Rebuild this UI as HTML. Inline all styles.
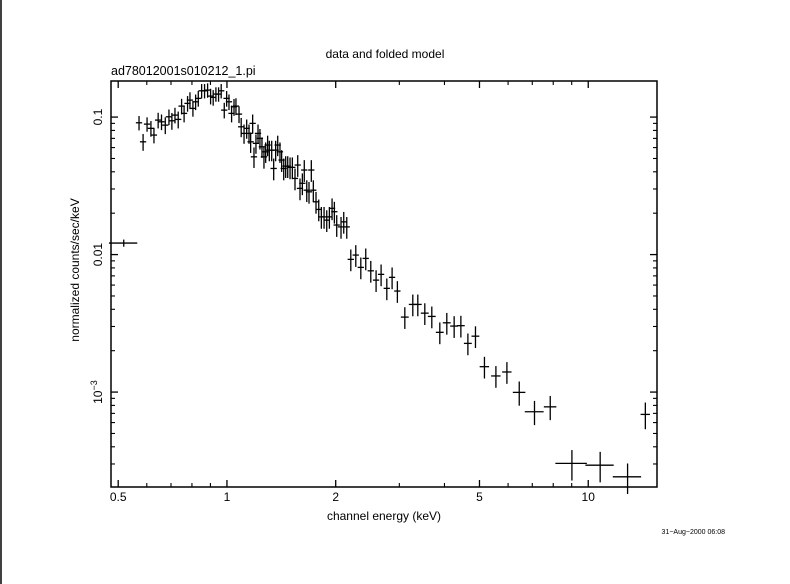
<!DOCTYPE html>
<html><head><meta charset="utf-8"><style>
html,body{margin:0;padding:0;background:#fff;}
svg{display:block;font-family:"Liberation Sans",sans-serif;}
</style></head><body>
<svg id="chart" width="790" height="584" viewBox="0 0 790 584" xmlns="http://www.w3.org/2000/svg">
<rect x="0" y="0" width="790" height="584" fill="#fff"/>
<line x1="1" y1="0" x2="1" y2="584" stroke="#000" stroke-width="1.5"/>
<text x="385" y="58" font-size="12" text-anchor="middle">data and folded model</text>
<text x="111" y="75" font-size="12.5">ad78012001s010212_1.pi</text>
<text x="384" y="520" font-size="12" text-anchor="middle">channel energy (keV)</text>
<text transform="translate(79,270) rotate(-90)" font-size="12" text-anchor="middle">normalized counts/sec/keV</text>
<text x="725" y="534" font-size="7" text-anchor="end">31−Aug−2000 06:08</text>
<g id="axes"></g>
<g id="marks"></g>
</svg>
<script>
const energy=[0.518,0.571,0.586,0.601,0.616,0.628,0.645,0.659,0.675,0.691,0.704,0.718,0.733,0.749,0.761,0.778,0.790,0.805,0.819,0.833,0.851,0.867,0.884,0.901,0.916,0.932,0.948,0.964,0.983,0.998,1.013,1.030,1.046,1.059,1.080,1.095,1.115,1.134,1.151,1.163,1.178,1.188,1.203,1.219,1.234,1.250,1.266,1.280,1.296,1.310,1.330,1.347,1.364,1.382,1.402,1.417,1.436,1.454,1.473,1.495,1.517,1.543,1.570,1.593,1.617,1.637,1.663,1.687,1.712,1.734,1.764,1.795,1.825,1.857,1.889,1.921,1.954,1.983,2.013,2.069,2.105,2.146,2.202,2.273,2.347,2.422,2.501,2.587,2.671,2.770,2.865,2.963,3.107,3.269,3.375,3.529,3.690,3.883,4.060,4.255,4.441,4.644,4.874,5.161,5.552,5.955,6.442,7.100,7.849,9.012,10.79,12.85,14.39];
const flux=[0.01213,0.0909,0.0661,0.0889,0.0828,0.0740,0.0951,0.0924,0.0874,0.1005,0.0940,0.1034,0.0962,0.1202,0.1064,0.1258,0.1329,0.1157,0.1292,0.1368,0.1553,0.1553,0.1571,0.1421,0.1391,0.1470,0.1470,0.1553,0.1124,0.1368,0.1292,0.1064,0.1188,0.1202,0.1051,0.0850,0.0761,0.0828,0.0761,0.0661,0.0900,0.0514,0.0644,0.0761,0.0700,0.0608,0.0514,0.0559,0.0626,0.0575,0.0575,0.0423,0.0575,0.0626,0.0559,0.0487,0.0423,0.0440,0.0440,0.0431,0.0431,0.0358,0.0448,0.0303,0.0330,0.0412,0.0294,0.0286,0.0412,0.0294,0.0242,0.0213,0.0188,0.0188,0.0178,0.0188,0.0217,0.0205,0.0164,0.0159,0.0173,0.0159,0.00923,0.00992,0.00807,0.00938,0.00762,0.00652,0.00718,0.00568,0.00683,0.00543,0.00351,0.00434,0.00434,0.00375,0.00355,0.00272,0.00319,0.00302,0.00304,0.00226,0.00255,0.00153,0.00131,0.00140,0.000995,0.000719,0.000781,0.000303,0.000294,0.000242,0.000688];
const energyHalfFrac=[0.09,0.02,0.02,0.02,0.02,0.02,0.02,0.02,0.02,0.02,0.02,0.02,0.02,0.02,0.02,0.02,0.02,0.02,0.02,0.02,0.02,0.02,0.02,0.02,0.02,0.02,0.02,0.02,0.02,0.02,0.02,0.02,0.02,0.02,0.02,0.02,0.02,0.02,0.02,0.02,0.02,0.02,0.02,0.02,0.02,0.02,0.02,0.02,0.02,0.02,0.02,0.02,0.02,0.02,0.02,0.02,0.02,0.02,0.02,0.02,0.02,0.02,0.02,0.02,0.02,0.02,0.02,0.02,0.02,0.02,0.02,0.02,0.02,0.02,0.02,0.02,0.02,0.02,0.02,0.02,0.02,0.02,0.02,0.02,0.02,0.02,0.02,0.02,0.02,0.02,0.02,0.02,0.025,0.025,0.025,0.025,0.025,0.025,0.025,0.025,0.025,0.025,0.025,0.03,0.03,0.03,0.04,0.06,0.04,0.1,0.09,0.09,0.03];
const fluxErrFrac=[0.06,0.12,0.14,0.12,0.13,0.13,0.13,0.13,0.14,0.13,0.14,0.13,0.14,0.13,0.14,0.13,0.14,0.13,0.13,0.13,0.12,0.12,0.12,0.13,0.13,0.12,0.12,0.12,0.13,0.13,0.13,0.14,0.14,0.14,0.14,0.16,0.16,0.16,0.16,0.17,0.16,0.17,0.16,0.16,0.17,0.17,0.18,0.17,0.17,0.17,0.17,0.18,0.17,0.17,0.17,0.18,0.18,0.18,0.18,0.18,0.18,0.18,0.18,0.18,0.18,0.18,0.18,0.18,0.18,0.18,0.18,0.18,0.18,0.18,0.18,0.18,0.18,0.18,0.18,0.18,0.18,0.18,0.18,0.18,0.18,0.18,0.18,0.18,0.18,0.18,0.18,0.18,0.18,0.18,0.18,0.18,0.18,0.18,0.18,0.18,0.18,0.18,0.18,0.18,0.18,0.18,0.2,0.2,0.2,0.25,0.25,0.25,0.22];
const xMajorTicks=[0.5,1,2,5,10];
const xMajorLabels=["0.5","1","2","5","10"];
const xMinorTicks=[0.6,0.7,0.8,0.9,3,4,6,7,8,9];
const yMajorTicks=[0.1,0.01,0.001];
const yMinorTicks=[0.0003,0.0004,0.0005,0.0006,0.0007,0.0008,0.0009,0.002,0.003,0.004,0.005,0.006,0.007,0.008,0.009,0.02,0.03,0.04,0.05,0.06,0.07,0.08,0.09];

const L=111,R=657,T=81,B=487;
const xMin=0.4776,xMax=15.5,yMin=2.04e-4,yMax=0.183;
function xs(v){return L+(Math.log10(v)-Math.log10(xMin))/(Math.log10(xMax)-Math.log10(xMin))*(R-L);}
function ys(v){return B-(Math.log10(v)-Math.log10(yMin))/(Math.log10(yMax)-Math.log10(yMin))*(B-T);}
const NS="http://www.w3.org/2000/svg";
function mk(tag,attrs,parent){const e=document.createElementNS(NS,tag);for(const k in attrs)e.setAttribute(k,attrs[k]);parent.appendChild(e);return e;}
const ax=document.getElementById('axes');
const frame=mk('rect',{x:L,y:T,width:R-L,height:B-T,fill:'none',stroke:'#000','stroke-width':1.5},ax);


xMajorTicks.forEach((v,i)=>{const x=xs(v);
  const t1=mk('line',{x1:x,y1:B,x2:x,y2:B-7,stroke:'#000','stroke-width':1.3},ax);
  
  
  const t2=mk('line',{x1:x,y1:T,x2:x,y2:T+7,stroke:'#000','stroke-width':1.3},ax);
  
  
  const tx=mk('text',{x:x,y:B+14,'font-size':12,'text-anchor':'middle'},ax);tx.textContent=xMajorLabels[i];
  
  
});
xMinorTicks.forEach(v=>{const x=xs(v);
  const t1=mk('line',{x1:x,y1:B,x2:x,y2:B-4,stroke:'#000','stroke-width':1.1},ax);
  
  
  const t2=mk('line',{x1:x,y1:T,x2:x,y2:T+4,stroke:'#000','stroke-width':1.1},ax);
  
  
});
yMajorTicks.forEach(v=>{const y=ys(v);
  const t1=mk('line',{x1:L,y1:y,x2:L+7,y2:y,stroke:'#000','stroke-width':1.3},ax);
  
  
  const t2=mk('line',{x1:R,y1:y,x2:R-7,y2:y,stroke:'#000','stroke-width':1.3},ax);
  
  
  const tx=mk('text',{transform:`translate(102,${y}) rotate(-90)`,'font-size':12,'text-anchor':'middle'},ax);
  if(v>=0.01){tx.textContent=(v===0.1?"0.1":"0.01");}
  else{tx.textContent="10";const s=mk('tspan',{dy:-5,'font-size':9},tx);s.textContent="−3";}
  
  
});
yMinorTicks.forEach(v=>{const y=ys(v);
  const t1=mk('line',{x1:L,y1:y,x2:L+4,y2:y,stroke:'#000','stroke-width':1.1},ax);
  
  
  const t2=mk('line',{x1:R,y1:y,x2:R-4,y2:y,stroke:'#000','stroke-width':1.1},ax);
  
  
});
const mg=document.getElementById('marks');
energy.forEach((e,i)=>{const f=flux[i];
  const g=mk('g',{stroke:'#000','stroke-width':1.3},mg);
  
  
  const dx=e*energyHalfFrac[i];
  mk('line',{x1:xs(e-dx),y1:ys(f),x2:xs(e+dx),y2:ys(f)},g);
  const df=f*fluxErrFrac[i];
  mk('line',{x1:xs(e),y1:ys(f-df),x2:xs(e),y2:ys(f+df)},g);
});
</script>
</body></html>
